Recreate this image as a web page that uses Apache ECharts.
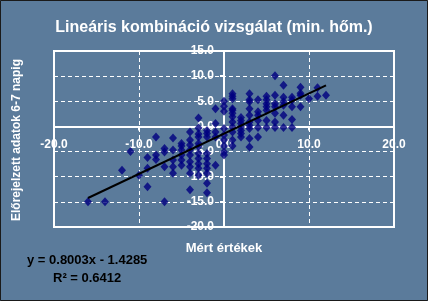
<!DOCTYPE html>
<html>
<head>
<meta charset="utf-8">
<script src="https://cdn.jsdelivr.net/npm/echarts@6/dist/echarts.min.js"></script>
<style>
html,body{margin:0;padding:0;background:#5b7b9b;}
#c{width:428px;height:301px;}
</style>
</head>
<body>
<div id="c"></div>
<script>
// Measured values (x) and forecasts (y)
const measured = [
-16,-14,-12,-11,-10,-9,-9,-9,-8,-8,-8,-7,-7,-7,-7,
-6,-6,-6,-6,-6,-5,-5,-5,-5,-5,-5,
-4,-4,-4,-4,-4,-4,-4,-4,-4,
-3,-3,-3,-3,-3,-3,-3,-3,-3,-3,-3,
-2,-2,-2,-2,-2,-2,-2,-2,-2,-2,
-1,-1,-1,-1,-1,
0,0,0,0,0,0,0,0,0,
1,1,1,1,1,1,1,1,1,1,1,1,
2,2,2,2,2,2,2,
3,3,3,3,3,3,3,3,3,3,
4,4,4,4,4,4,
5,5,5,5,5,5,5,
6,6,6,6,6,6,6,
7,7,7,7,7,7,
8,8,8,8,8,
9,9,9,9,
10,11,11,12
];
const forecast = [
-15,-15,-8.7,-5.0,-9.7,-6.2,-8.3,-12.0,-2.1,-5.7,-6.6,-4.4,-5.1,-8.0,-15,
-2.3,-4.7,-6.7,-8.0,-9.3,-3.4,-3.9,-4.7,-5.7,-6.7,-7.7,
-1.1,-2.7,-3.7,-4.7,-5.7,-7.0,-8.0,-9.3,-12.6,
1.7,-0.3,-1.5,-2.1,-3.4,-4.0,-5.4,-6.4,-7.4,-8.3,-9.7,
-0.8,-1.4,-2.1,-5.4,-6.4,-7.4,-8.3,-9.3,-11.3,-13.2,
3.5,0.6,-1.1,-2.1,-7.7,
5.0,4.0,3.0,-0.4,-1.7,-2.7,-3.9,-5.1,-5.7,
6.5,6.0,5.5,3.5,3.2,2.6,1.9,0.9,-0.1,-1.1,-2.7,-3.9,
1.8,1.2,0.6,-0.1,-0.8,-1.4,-2.1,
6.5,5.3,4.9,3.5,2.2,0.9,0.2,-0.4,-2.4,-4.1,
5.3,2.9,2.2,1.2,-0.2,-2.1,
6.0,5.3,4.5,3.9,3.2,1.2,-0.2,
10.1,6.2,4.5,3.9,2.6,0.9,-0.2,
8.2,5.8,4.9,4.2,2.2,-0.2,
5.8,5.2,3.9,1.4,-0.2,
7.8,6.6,6.2,3.9,
5.5,7.7,6.0,6.2
];
// Trendline parameters as printed on the chart
const slope = 0.8003;
const intercept = -1.4285;
const rSquared = 0.6412;

const titleText = 'Lineáris kombináció vizsgálat (min. hőm.)';
const xName = 'Mért értékek';
const yName = 'Előrejelzett adatok 6-7 napig';
const xTicks = {min: -20, max: 20, interval: 10};
const yTicks = {min: -20, max: 15, interval: 5};

const points = measured.map((x, i) => [x, forecast[i]]);
const xMin = Math.min(...measured), xMax = Math.max(...measured);
const trend = [[xMin, slope * xMin + intercept], [xMax, slope * xMax + intercept]];

const GRID = {left: 54, right: 34, top: 51, bottom: 74};
const chart = echarts.init(document.getElementById('c'), null, {renderer: 'canvas'});
const FONT = '"Liberation Sans", Arial, sans-serif';
chart.setOption({
  animation: false,
  backgroundColor: '#5b7b9b',
  title: {
    text: titleText, left: 'center', top: 15,
    textStyle: {color: '#fff', fontSize: 16, fontWeight: 'bold', fontFamily: FONT}
  },
  grid: Object.assign({show: true, borderColor: '#fff', borderWidth: 2,
         containLabel: false, outerBoundsMode: 'none'}, GRID),
  xAxis: {
    type: 'value', min: xTicks.min, max: xTicks.max, interval: xTicks.interval,
    axisLine: {onZero: false, lineStyle: {color: '#fff', width: 2}},
    axisTick: {show: true, length: 4, lineStyle: {color: '#fff', width: 2}},
    axisLabel: {color: '#fff', fontSize: 12, fontWeight: 'bold', fontFamily: FONT, margin: 12,
                formatter: v => v.toFixed(1)},
    splitLine: {show: true, lineStyle: {color: '#fff', type: [4, 3], width: 1}}
  },
  yAxis: {
    type: 'value', min: yTicks.min, max: yTicks.max, interval: yTicks.interval,
    axisLine: {onZero: false, lineStyle: {color: '#fff', width: 2}},
    axisTick: {show: true, length: 4, lineStyle: {color: '#fff', width: 2}},
    axisLabel: {color: '#fff', fontSize: 12, fontWeight: 'bold', fontFamily: FONT, margin: 10,
                formatter: v => v.toFixed(1)},
    splitLine: {show: true, lineStyle: {color: '#fff', type: [4, 3], width: 1}}
  },
  series: [
    {type: 'scatter', data: points, symbol: 'diamond', symbolSize: [8, 9],
     itemStyle: {color: '#000080'}, z: 3},
    {type: 'line', data: trend, showSymbol: false, symbol: 'none',
     lineStyle: {color: '#000', width: 2}, z: 4}
  ],
  graphic: [
    {type: 'text', x: 17, y: 140, rotation: Math.PI / 2,
     style: {text: yName, fill: '#fff', font: 'bold 12px ' + FONT, textAlign: 'center', textVerticalAlign: 'middle'}},
    {type: 'text', x: 224, y: 248,
     style: {text: xName, fill: '#fff', font: 'bold 13px ' + FONT, textAlign: 'center', textVerticalAlign: 'middle'}},
    {type: 'text', x: 27, y: 260,
     style: {text: 'y = ' + slope.toFixed(4) + 'x - ' + Math.abs(intercept).toFixed(4), fill: '#000', font: 'bold 13px ' + FONT, textAlign: 'left', textVerticalAlign: 'middle'}},
    {type: 'text', x: 53, y: 278,
     style: {text: 'R² = ' + rSquared.toFixed(4), fill: '#000', font: 'bold 13px ' + FONT, textAlign: 'left', textVerticalAlign: 'middle'}},
    {type: 'rect', shape: {x: 0.5, y: 0.5, width: 427, height: 300},
     style: {fill: 'none', stroke: '#1a1a1a', lineWidth: 1}, silent: true}
  ]
});
// Move both axes (line, ticks, labels) to cross at the origin, using the library's scales
const origin = chart.convertToPixel({gridIndex: 0}, [0, 0]);
const h = chart.getHeight(), w = chart.getWidth();
chart.setOption({
  xAxis: {offset: -((h - GRID.bottom) - origin[1])},
  yAxis: {offset: -(origin[0] - GRID.left)}
});
</script>
</body>
</html>
